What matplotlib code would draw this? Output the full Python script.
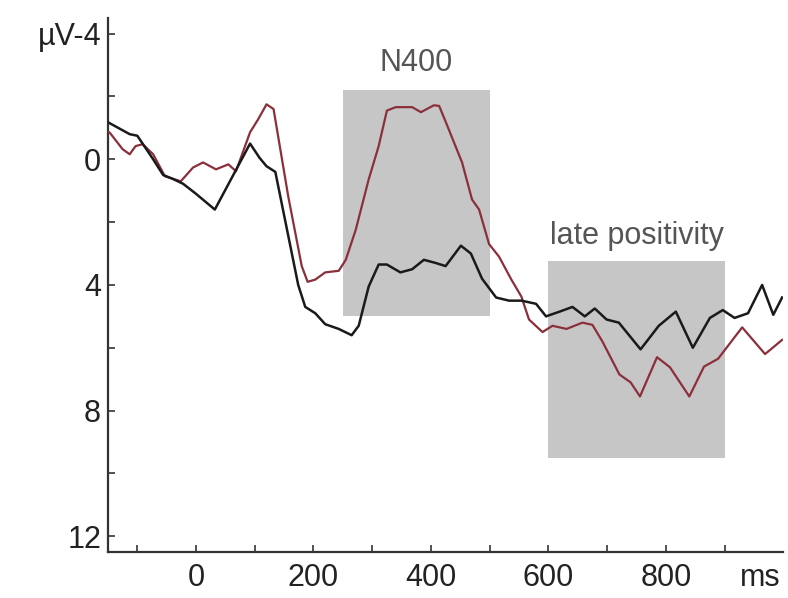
import matplotlib.pyplot as plt
from matplotlib.patches import Rectangle

plt.rcParams['font.family'] = ['Liberation Sans', 'DejaVu Sans']

# 반복/비반복 조건의 ERP 파형 (ms, µV)
black_ms = [-152, -113, -100, -73, -56, -40, -22, 0, 32, 92, 108, 120, 135, 174, 186, 203, 220, 243, 265, 277,
            294, 311, 325, 348, 368, 388, 408, 425, 451, 468, 487, 511, 533, 554, 579, 596, 619, 641, 662, 679,
            699, 720, 757, 788, 817, 846, 875, 897, 917, 940, 964, 983, 998]
black_uv = [-1.2, -0.8, -0.75, 0.0, 0.5, 0.62, 0.78, 1.1, 1.6, -0.5, -0.05, 0.22, 0.4, 4.0, 4.7, 4.9, 5.25, 5.4, 5.6, 5.3,
            4.05, 3.35, 3.35, 3.6, 3.5, 3.2, 3.3, 3.4, 2.75, 3.0, 3.8, 4.4, 4.5, 4.5, 4.6, 5.0, 4.85, 4.7, 5.0, 4.75,
            5.1, 5.2, 6.05, 5.3, 4.85, 6.0, 5.05, 4.8, 5.05, 4.9, 4.0, 4.95, 4.4]

red_ms = [-152, -147, -125, -113, -103, -91, -73, -53, -26, -5, 12, 34, 55, 68, 92, 106, 120, 132, 157, 180,
          190, 203, 220, 243, 255, 272, 294, 311, 325, 340, 368, 383, 405, 414, 425, 453, 470, 482, 499, 516,
          537, 554, 567, 590, 607, 631, 658, 675, 692, 721, 740, 756, 785, 807, 840, 865, 889, 930, 969, 998]
red_uv = [-0.9, -0.85, -0.32, -0.16, -0.42, -0.48, -0.16, 0.54, 0.7, 0.26, 0.1, 0.32, 0.16, 0.38, -0.86, -1.28, -1.75, -1.6, 1.18, 3.4,
          3.9, 3.83, 3.6, 3.55, 3.2, 2.24, 0.64, -0.42, -1.55, -1.66, -1.66, -1.5, -1.72, -1.7, -1.2, 0.1, 1.28, 1.6, 2.7, 3.1,
          3.83, 4.37, 5.1, 5.5, 5.3, 5.4, 5.2, 5.27, 5.8, 6.85, 7.1, 7.55, 6.3, 6.62, 7.55, 6.6, 6.35, 5.35, 6.2, 5.75]

# 분석 구간 (시작, 끝 ms, 위, 아래 µV, 이름, 이름 위치)
windows = [(250, 500, -2.2, 5.0, 'N400', -3.05),
           (600, 900, 3.25, 9.5, 'late positivity', 2.45)]

fig = plt.figure(figsize=(7.88, 5.98), dpi=100)
ax = fig.add_axes([0.137, 0.077, 0.857, 0.893])

for start, end, top, bottom, name, label_y in windows:
    ax.add_patch(Rectangle((start, top), end - start, bottom - top, facecolor='#c6c6c6', edgecolor='none', zorder=1))
    ax.text((start + end) / 2, label_y, name, ha='center', va='center', fontsize=22, color='#555555')

ax.plot(red_ms, red_uv, color='#8b2f3c', linewidth=1.6, zorder=3)
ax.plot(black_ms, black_uv, color='#1a1a1a', linewidth=1.8, zorder=4)

ax.set_xlim(-150, 1000)
ax.set_ylim(12.5, -4.5)  # 음전위를 위로

ax.set_xticks([0, 200, 400, 600, 800])
ax.set_xticks([-100, 100, 300, 500, 700, 900], minor=True)
ax.set_yticks([-4, 0, 4, 8, 12])
ax.set_yticks([-2, 2, 6, 10], minor=True)
ax.set_yticklabels(['µV-4', '0', '4', '8', '12'])

ax.tick_params(which='both', direction='in', length=5, width=1.2, color='#333333', labelsize=22, labelcolor='#222222')
ax.tick_params(axis='x', pad=8)
ax.tick_params(axis='y', pad=5)

for side in ['top', 'right']:
    ax.spines[side].set_visible(False)
for side in ['left', 'bottom']:
    ax.spines[side].set_linewidth(1.6)
    ax.spines[side].set_color('#333333')

ax.annotate('ms', xy=(960, 0), xycoords=('data', 'axes fraction'), xytext=(0, -8),
            textcoords='offset points', ha='center', va='top', fontsize=22, color='#222222')

fig.savefig('out.png', dpi=100)
